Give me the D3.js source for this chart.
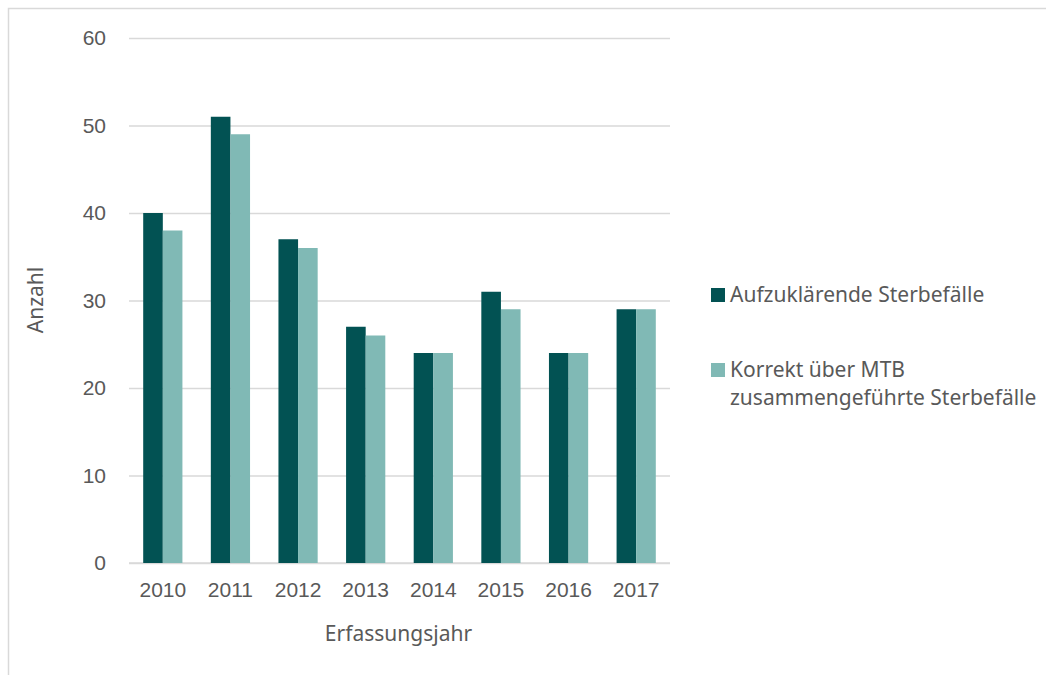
<!DOCTYPE html>
<html>
<head>
<meta charset="utf-8">
<script src="https://cdn.jsdelivr.net/npm/d3@7"></script>
<style>
  body { margin: 0; background: #fff; }
  svg { display: block; font-family: "Noto Sans", "Open Sans", sans-serif; }
</style>
</head>
<body>
<svg></svg>
<script>
let years = ["2010", "2011", "2012", "2013", "2014", "2015", "2016", "2017"];
let aufzuklaeren = [40, 51, 37, 27, 24, 31, 24, 29];
let korrekt = [38, 49, 36, 26, 24, 29, 24, 29];
let seriesNames = ["Aufzuklärende Sterbefälle", "Korrekt über MTB zusammengeführte Sterbefälle"];
let yTicks = [0, 10, 20, 30, 40, 50, 60];

let width = 1046;
let height = 675;
let plot = { left: 129, right: 670, top: 38, bottom: 563 };
let colors = ["#025253", "#80b9b5"];
let textColor = "#595959";
let fontSize = "21px";

let svg = d3.select("svg")
    .attr("width", width)
    .attr("height", height);

// chart frame
svg.append("rect")
    .attr("x", 8.5)
    .attr("y", 8.5)
    .attr("width", width)
    .attr("height", height)
    .attr("fill", "none")
    .attr("stroke", "#d9d9d9")
    .attr("stroke-width", 1.5);

let xScale = d3.scaleBand()
    .domain(years)
    .range([plot.left, plot.right])
    .paddingInner(0.42)
    .paddingOuter(0.21);

let xInner = d3.scaleBand()
    .domain([0, 1])
    .range([0, xScale.bandwidth()]);

let yScale = d3.scaleLinear()
    .domain([0, 60])
    .range([plot.bottom, plot.top]);

let yAxis = d3.axisLeft(yScale)
    .tickValues(yTicks)
    .tickSize(-(plot.right - plot.left))
    .tickPadding(23);

let gy = svg.append("g")
    .attr("transform", "translate(" + plot.left + ", 0)")
    .call(yAxis);
gy.select(".domain").remove();
gy.selectAll("line").attr("stroke", "#d9d9d9").attr("stroke-width", 1.3);
gy.selectAll("text")
    .attr("fill", textColor)
    .style("font-size", fontSize);

let xAxis = d3.axisBottom(xScale)
    .tickSize(0)
    .tickPadding(19);

let gx = svg.append("g")
    .attr("transform", "translate(0, " + plot.bottom + ")")
    .call(xAxis);
gx.select(".domain")
    .attr("stroke", "#d9d9d9")
    .attr("stroke-width", 1.3)
    .attr("d", "M" + plot.left + ",0H" + plot.right);
gx.selectAll("text")
    .attr("fill", textColor)
    .style("font-size", fontSize);

let rows = years.map((y, i) => ({ year: y, values: [aufzuklaeren[i], korrekt[i]] }));

svg.append("g")
    .selectAll("g")
    .data(rows)
    .enter()
    .append("g")
    .attr("transform", d => "translate(" + xScale(d.year) + ",0)")
    .selectAll("rect")
    .data(d => d.values.map((v, k) => ({ k: k, v: v })))
    .enter()
    .append("rect")
    .attr("x", d => xInner(d.k))
    .attr("width", xInner.bandwidth())
    .attr("y", d => yScale(d.v))
    .attr("height", d => plot.bottom - yScale(d.v))
    .attr("fill", d => colors[d.k]);

// axis titles
svg.append("text")
    .attr("x", (plot.left + plot.right) / 2 - 1)
    .attr("y", 641)
    .attr("text-anchor", "middle")
    .attr("fill", textColor)
    .style("font-size", fontSize)
    .text("Erfassungsjahr");

svg.append("text")
    .attr("transform", "translate(43, 300) rotate(-90)")
    .attr("text-anchor", "middle")
    .attr("fill", textColor)
    .style("font-size", fontSize)
    .text("Anzahl");

// legend
let legend = svg.append("g");
let legendY = [294, 369];
let legendLines = [[seriesNames[0]], ["Korrekt über MTB", "zusammengeführte Sterbefälle"]];

legendLines.forEach((lines, i) => {
    legend.append("rect")
        .attr("x", 711)
        .attr("y", legendY[i] - 6)
        .attr("width", 14)
        .attr("height", 14)
        .attr("fill", colors[i]);
    legend.append("text")
        .attr("y", legendY[i] + 7.5)
        .attr("fill", textColor)
        .style("font-size", fontSize)
        .selectAll("tspan")
        .data(lines)
        .enter()
        .append("tspan")
        .attr("x", 730)
        .attr("dy", (d, j) => j === 0 ? 0 : 28)
        .text(d => d);
});
</script>
</body>
</html>
